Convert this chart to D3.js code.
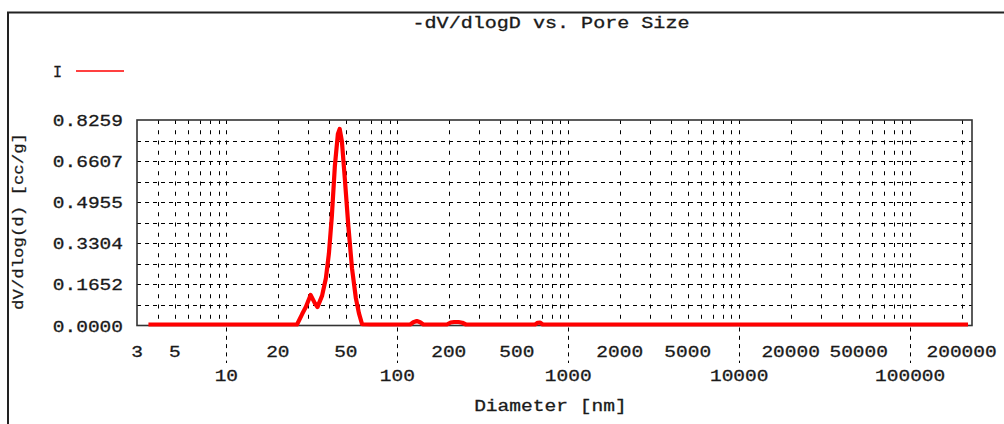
<!DOCTYPE html>
<html><head><meta charset="utf-8">
<script src="https://cdn.jsdelivr.net/npm/d3@7/dist/d3.min.js"></script>
<style>html,body{margin:0;padding:0;background:#fff;overflow:hidden}</style>
</head><body>
<script>
// ---- data ----
const diameters = [3.5, 4, 5, 7, 10, 15, 20, 24, 25.9, 27.7, 29.2, 31.1, 32.9, 34.1, 36.3, 38.2, 39.8, 41.4, 43.1, 44.9, 46.0, 47.4, 49.3, 51.7, 54.3, 57.2, 59.6, 62.2, 70, 90, 119, 124, 130, 136, 142, 170, 195, 205, 215, 228, 240, 252, 350, 500, 640, 662, 685, 708, 1000, 3000, 10000, 50000, 218000];
const volumes   = [0.004, 0.004, 0.004, 0.004, 0.004, 0.004, 0.004, 0.004, 0.004, 0.045, 0.075, 0.123, 0.09, 0.074, 0.12, 0.19, 0.29, 0.44, 0.64, 0.77, 0.79, 0.74, 0.59, 0.40, 0.23, 0.11, 0.05, 0.005, 0.004, 0.004, 0.004, 0.013, 0.018, 0.013, 0.004, 0.004, 0.004, 0.012, 0.014, 0.014, 0.011, 0.004, 0.004, 0.004, 0.004, 0.011, 0.012, 0.004, 0.004, 0.004, 0.004, 0.004, 0.004];
const yTickLabels = ["0.0000", "0.1652", "0.3304", "0.4955", "0.6607", "0.8259"];
const xMinorLabels = [3, 5, 20, 50, 200, 500, 2000, 5000, 20000, 50000, 200000];
const xMajorLabels = [10, 100, 1000, 10000, 100000];
const titleText = "-dV/dlogD vs. Pore Size";
const xTitle = "Diameter [nm]";
const yTitle = "dV/dlog(d)  [cc/g]";
const legendLabel = "I";
const yMax = 0.8259;

// ---- layout ----
const W = 1004, H = 424;
const L = 137, R = 972, T = 120, B = 325.5;
const font = "'Liberation Mono', 'Courier New', monospace";
const textCol = "#1a1a1a";
const charW = 11.7;

const svg = d3.select("body").append("svg").attr("width", W).attr("height", H);
svg.append("rect").attr("width", W).attr("height", H).attr("fill", "#fff");

// outer frame
svg.append("line").attr("x1", 7).attr("x2", W + 2).attr("y1", 12.5).attr("y2", 12.5).attr("stroke", "#222").attr("stroke-width", 2);
svg.append("line").attr("x1", 8).attr("x2", 8).attr("y1", 12).attr("y2", H + 2).attr("stroke", "#222").attr("stroke-width", 2);

const x = d3.scaleLog().domain([3, 230000]).range([L, R]);
const y = d3.scaleLinear().domain([0, yMax]).range([B, T]);

function txt(s, px, py, anchor, size, len) {
  const t = svg.append("text").attr("x", px).attr("y", py).attr("text-anchor", anchor)
    .attr("font-family", font).attr("font-size", size).attr("fill", textCol)
    .attr("stroke", textCol).attr("stroke-width", 0.3).text(s);
  if (len) t.attr("textLength", len).attr("lengthAdjust", "spacingAndGlyphs");
  return t;
}

// title
txt(titleText, 551, 27.5, "middle", 16, 277);

// legend
txt(legendLabel, 57.5, 77, "middle", 17, 9);
svg.append("line").attr("x1", 76).attr("x2", 124).attr("y1", 71).attr("y2", 71).attr("stroke", "#ff0000").attr("stroke-width", 1.7);

// grid: horizontal
const g = svg.append("g");
for (let i = 1; i < 10; i++) {
  const v = yMax * i / 10;
  g.append("line").attr("x1", L).attr("x2", R).attr("y1", Math.round(y(v)) + 0.5).attr("y2", Math.round(y(v)) + 0.5)
    .attr("stroke", "#000").attr("stroke-width", 1).attr("stroke-dasharray", "4,4");
}
// grid: vertical (every 1..9 x 10^n)
const gridVals = [];
for (let e = 0; e <= 5; e++) for (let k = 1; k <= 9; k++) {
  const v = k * Math.pow(10, e);
  if (v > 3 && v < 230000) gridVals.push(v);
}
gridVals.forEach(v => {
  const px = Math.round(x(v)) + 0.5;
  g.append("line").attr("x1", px).attr("x2", px).attr("y1", T).attr("y2", B)
    .attr("stroke", "#000").attr("stroke-width", 1).attr("stroke-dasharray", "4,6.25");
});
// major tick extensions below plot
xMajorLabels.forEach(v => {
  const px = Math.round(x(v)) + 0.5;
  g.append("line").attr("x1", px).attr("x2", px).attr("y1", B + 2).attr("y2", 363)
    .attr("stroke", "#000").attr("stroke-width", 1).attr("stroke-dasharray", "4,4.3");
});

// plot border
svg.append("rect").attr("x", L).attr("y", T).attr("width", R - L).attr("height", B - T)
  .attr("fill", "none").attr("stroke", "#333").attr("stroke-width", 1.6);

// y tick labels
yTickLabels.forEach((s, i) => {
  txt(s, 123, y(yMax * i / 5) + 6, "end", 16.5, s.length * charW);
});

// x tick labels
xMinorLabels.forEach(v => {
  const s = String(v);
  txt(s, x(v), 356.5, "middle", 16.5, s.length * charW);
});
xMajorLabels.forEach(v => {
  const s = String(v);
  txt(s, x(v), 381, "middle", 16.5, s.length * charW);
});

// axis titles
txt(xTitle, 550.5, 411, "middle", 16.5, xTitle.length * 11.75);
svg.append("text").attr("transform", "translate(23,221.5) rotate(-90)")
  .attr("text-anchor", "middle").attr("font-family", font).attr("font-size", 15)
  .attr("fill", textCol).attr("stroke", textCol).attr("stroke-width", 0.25)
  .attr("textLength", 177).attr("lengthAdjust", "spacingAndGlyphs").text(yTitle);

// data line
const data = diameters.map((d, i) => [d, volumes[i]]);
const line = d3.line().x(d => x(d[0])).y(d => y(d[1])).curve(d3.curveLinear);
svg.append("path").datum(data).attr("d", line).attr("fill", "none")
  .attr("stroke", "#ff0000").attr("stroke-width", 4.2).attr("stroke-linejoin", "round").attr("stroke-linecap", "butt");
</script>
</body></html>
